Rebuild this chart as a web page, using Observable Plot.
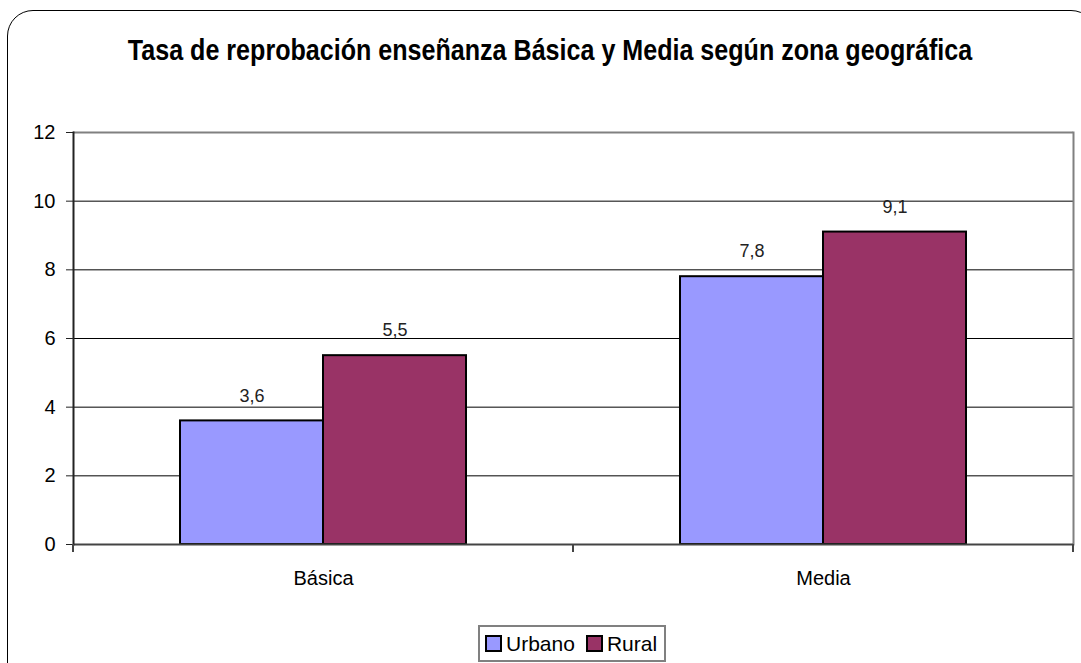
<!DOCTYPE html>
<html>
<head>
<meta charset="utf-8">
<script src="https://cdn.jsdelivr.net/npm/d3@7"></script>
<script src="https://cdn.jsdelivr.net/npm/@observablehq/plot@0.6"></script>
<style>
  html, body { margin: 0; padding: 0; background: #fff; }
  body { width: 1081px; height: 663px; overflow: hidden; position: relative;
         font-family: "Liberation Sans Narrow", "Arial Narrow", "Liberation Sans", sans-serif; color: #000; }
  #frame { position: absolute; left: 7px; top: 10px; width: 1090px; height: 720px;
           border: 1.5px solid #000; border-radius: 26px; box-sizing: border-box; }
  #title { position: absolute; left: 0; top: 32px; width: 1100px; text-align: center;
           font-weight: bold; font-size: 29px; line-height: 36px;
           transform: scaleX(0.865); transform-origin: 550px 0; }
  #chart { position: absolute; left: 0; top: 0; }
  #legend { position: absolute; left: 478px; top: 625px; height: 37px; width: 188px; box-sizing: border-box;
            border: 2px solid #808080; display: flex; align-items: center; justify-content: flex-start;
            padding-left: 5px; font-size: 21px; }
  .item { display: flex; align-items: center; margin-right: 11px; }
  .sw { width: 17px; height: 17px; box-sizing: border-box; border: 2px solid #000; margin-right: 4px; }
</style>
</head>
<body>
<div id="frame"></div>
<div id="title">Tasa de reprobación enseñanza Básica y Media según zona geográfica</div>
<div id="chart"></div>
<div id="legend"></div>
<script>
const categories = ["Básica", "Media"];
const series = ["Urbano", "Rural"];
const urbanoValues = [3.6, 7.8];
const ruralValues = [5.5, 9.1];
const seriesColors = ["#9999FF", "#993366"];
const yTicks = [0, 2, 4, 6, 8, 10, 12];
const gridTicks = [2, 4, 6, 8, 10];

const data = [];
categories.forEach((c, i) => {
  data.push({cat: c, series: "Urbano", value: urbanoValues[i]});
  data.push({cat: c, series: "Rural", value: ruralValues[i]});
});
const fmt = v => d3.format(".1f")(v).replace(".", ",");
const font = '"Liberation Sans Narrow", "Arial Narrow", "Liberation Sans", sans-serif';

const plot = Plot.plot({
  width: 1081,
  height: 620,
  marginLeft: 73,
  marginRight: 8,
  marginTop: 132,
  marginBottom: 76,
  style: {fontFamily: font, background: "transparent", color: "#000"},
  fx: {domain: categories, padding: 0, label: null, axis: null},
  x: {domain: series, paddingInner: 0, paddingOuter: 0.746, axis: null},
  y: {domain: [0, 12], axis: null},
  color: {domain: series, range: seriesColors},
  marks: [
    Plot.ruleY(gridTicks, {stroke: "#000", strokeWidth: 1}),
    Plot.ruleY([12], {stroke: "#808080", strokeWidth: 2}),
    Plot.frame({anchor: "right", facetAnchor: "right", stroke: "#808080", strokeWidth: 2}),
    Plot.barY(data, {fx: "cat", x: "series", y: "value", fill: "series", stroke: "#000", strokeWidth: 2}),
    Plot.ruleY([0], {stroke: "#444", strokeWidth: 2}),
    Plot.frame({anchor: "left", facetAnchor: "left", stroke: "#222", strokeWidth: 2}),
    Plot.axisY({ticks: yTicks, tickSize: 7, tickPadding: 11, fontSize: 20, facetAnchor: "left", label: null, stroke: "#222"}),
    Plot.axisFx({anchor: "bottom", tickSize: 0, tickPadding: 26, fontSize: 20, label: null}),
    Plot.text(data, {fx: "cat", x: "series", y: "value", text: d => fmt(d.value), dy: -25, fontSize: 18, fill: "#222"})
  ]
});
document.getElementById("chart").appendChild(plot);

// category separator ticks below the x axis, from the library's fx scale
const fxs = plot.scale("fx");
const yScale = plot.scale("y");
const svg = d3.select(plot.tagName === "svg" ? plot : plot.querySelector("svg"));
const edges = categories.map(c => fxs.apply(c)).concat([fxs.apply(categories[categories.length - 1]) + fxs.bandwidth]);
const y0 = yScale.apply(0);
svg.append("g").selectAll("line").data(edges).join("line")
  .attr("x1", d => d).attr("x2", d => d)
  .attr("y1", y0).attr("y2", y0 + 8)
  .attr("stroke", "#444").attr("stroke-width", 2);

// legend
const legend = d3.select("#legend");
series.forEach((s, i) => {
  const it = legend.append("div").attr("class", "item");
  it.append("div").attr("class", "sw").style("background", seriesColors[i]);
  it.append("span").text(s);
});
</script>
</body>
</html>
